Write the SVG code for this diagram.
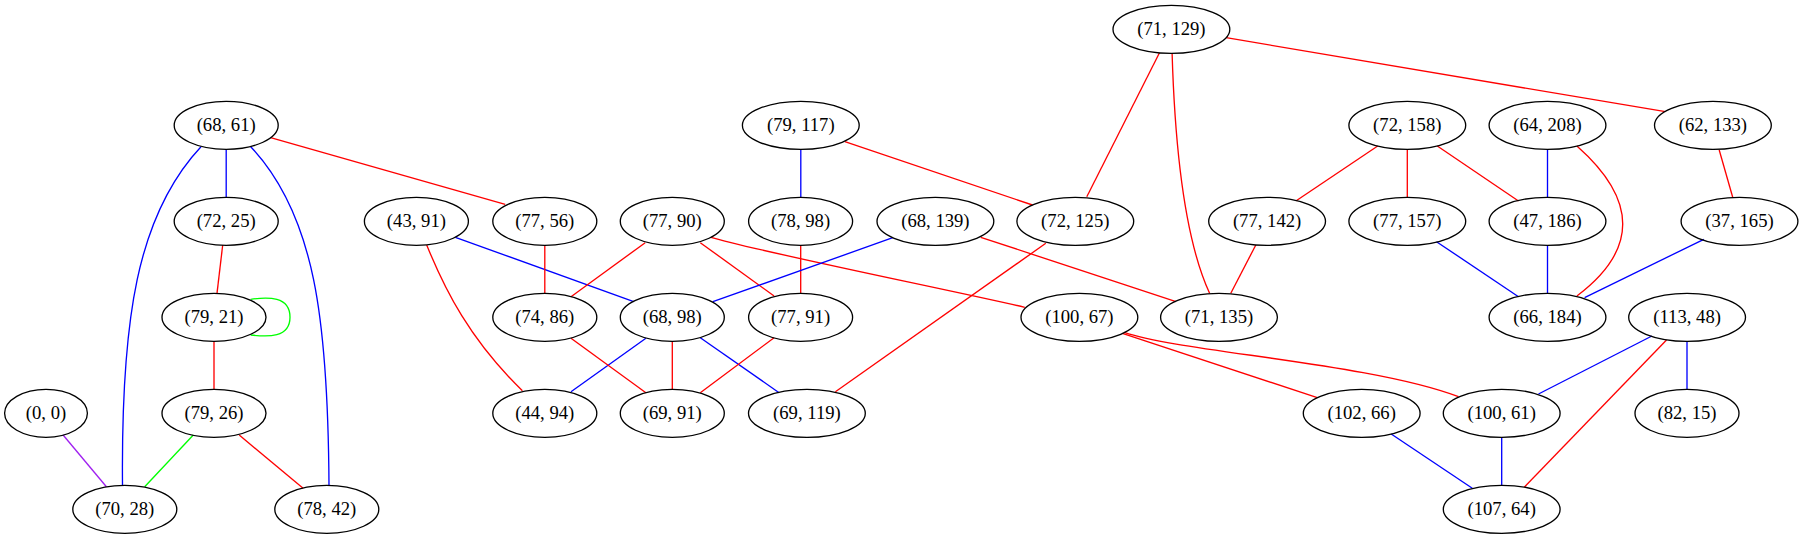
<svg xmlns="http://www.w3.org/2000/svg" width="1803" height="539" viewBox="0 0 1803 539">
<style>
.n ellipse{fill:none;stroke:#000;stroke-width:1.33}
.n text{font-family:"Liberation Serif","Times New Roman",serif;font-size:18.67px;text-anchor:middle;fill:#000}
#edges path{fill:none;stroke-width:1.33}
.r{stroke:#ff0000}.b{stroke:#0000ff}.g{stroke:#00ff00}.p{stroke:#a020f0}
</style>
<rect width="1803" height="539" fill="#fff"/>
<g id="edges">
<path class="b" d="M226.2,149.3 V197.3"/>
<path class="b" d="M201,146.7 C137,215 121,320 122.5,485.3"/>
<path class="b" d="M250.7,146.7 C315,215 328,320 329,485.3"/>
<path class="r" d="M270.6,137.7 L505.2,204.3"/>
<path class="r" d="M222.7,245 L217,293.3"/>
<path class="g" d="M250.7,299.3 C268,297 290,296 290,317.3 C290,338 268,337 250.7,335"/>
<path class="r" d="M214,341.3 V389.3"/>
<path class="g" d="M193.3,435 L144.7,486.7"/>
<path class="r" d="M239.2,435 L303.1,488.3"/>
<path class="p" d="M63.1,435 L106.4,486.7"/>
<path class="b" d="M455.4,237.3 L633.7,301.7"/>
<path class="r" d="M426.7,245 C445,290 470,340 522.4,390.7"/>
<path class="r" d="M544.8,245.3 V293.3"/>
<path class="r" d="M645.2,242.7 L571,296.7"/>
<path class="r" d="M700.3,242.7 L774.1,296"/>
<path class="r" d="M711,237.3 C760,252 950,290 1024.8,307.3"/>
<path class="b" d="M800.8,149.3 V197.3"/>
<path class="r" d="M844.9,141.7 L1032.5,205"/>
<path class="r" d="M800.7,245.3 V293.3"/>
<path class="b" d="M892.8,237.7 L712.9,301.7"/>
<path class="r" d="M980.8,237.3 L1176,301.7"/>
<path class="r" d="M1045.8,243.3 L835.4,391.7"/>
<path class="r" d="M1159.5,52.7 L1086.8,196.7"/>
<path class="r" d="M1172.1,53.3 C1175,150 1185,240 1209.6,293.3"/>
<path class="r" d="M1226.2,37.7 L1665.4,111.7"/>
<path class="r" d="M1377.7,146 L1296.2,200.7"/>
<path class="r" d="M1407.3,149.3 V197.3"/>
<path class="r" d="M1437.3,146 L1518.5,201"/>
<path class="b" d="M1547.5,149.3 V197.3"/>
<path class="r" d="M1576.9,146 C1638,200 1638,250 1576.9,296"/>
<path class="b" d="M1436.5,241.7 L1518.5,296.7"/>
<path class="b" d="M1547.5,245.3 V293.3"/>
<path class="b" d="M1703.8,239.3 L1584.6,297.7"/>
<path class="r" d="M1719.2,150 L1732.7,197.3"/>
<path class="r" d="M1255.8,245 L1230.8,293.3"/>
<path class="r" d="M1122.4,333.3 L1317.3,397.7"/>
<path class="r" d="M1124.3,332.3 C1180,352 1370,363 1458.5,396.7"/>
<path class="b" d="M1651.9,336 L1538.5,394"/>
<path class="b" d="M1687,341.3 V389.3"/>
<path class="r" d="M1666.5,340 L1524.2,487.3"/>
<path class="b" d="M1391.2,434 L1472.3,488.3"/>
<path class="b" d="M1501.7,437.3 V485.3"/>
<path class="b" d="M645.9,338.3 L571,391.7"/>
<path class="r" d="M672.3,341.3 V389.3"/>
<path class="b" d="M700.3,337.7 L779.1,392.7"/>
<path class="r" d="M571,338.3 L645.9,392.7"/>
<path class="r" d="M774.1,337.7 L700.3,392.7"/>
</g>
<g id="n_71_129" class="n"><ellipse cx="1171.4" cy="29.3" rx="58.4" ry="24"/><text x="1171.4" y="35">(71, 129)</text></g>
<g id="n_68_61" class="n"><ellipse cx="226.2" cy="125.3" rx="52" ry="24"/><text x="226.2" y="131">(68, 61)</text></g>
<g id="n_79_117" class="n"><ellipse cx="800.8" cy="125.3" rx="58.4" ry="24"/><text x="800.8" y="131">(79, 117)</text></g>
<g id="n_72_158" class="n"><ellipse cx="1407.3" cy="125.3" rx="58.4" ry="24"/><text x="1407.3" y="131">(72, 158)</text></g>
<g id="n_64_208" class="n"><ellipse cx="1547.5" cy="125.3" rx="58.4" ry="24"/><text x="1547.5" y="131">(64, 208)</text></g>
<g id="n_62_133" class="n"><ellipse cx="1712.9" cy="125.3" rx="58.4" ry="24"/><text x="1712.9" y="131">(62, 133)</text></g>
<g id="n_72_25" class="n"><ellipse cx="226.2" cy="221.3" rx="52" ry="24"/><text x="226.2" y="227">(72, 25)</text></g>
<g id="n_43_91" class="n"><ellipse cx="416.4" cy="221.3" rx="52" ry="24"/><text x="416.4" y="227">(43, 91)</text></g>
<g id="n_77_56" class="n"><ellipse cx="544.8" cy="221.3" rx="52" ry="24"/><text x="544.8" y="227">(77, 56)</text></g>
<g id="n_77_90" class="n"><ellipse cx="672.3" cy="221.3" rx="52" ry="24"/><text x="672.3" y="227">(77, 90)</text></g>
<g id="n_78_98" class="n"><ellipse cx="800.6" cy="221.3" rx="52" ry="24"/><text x="800.6" y="227">(78, 98)</text></g>
<g id="n_68_139" class="n"><ellipse cx="935.4" cy="221.3" rx="58.4" ry="24"/><text x="935.4" y="227">(68, 139)</text></g>
<g id="n_72_125" class="n"><ellipse cx="1075.3" cy="221.3" rx="58.4" ry="24"/><text x="1075.3" y="227">(72, 125)</text></g>
<g id="n_77_142" class="n"><ellipse cx="1267.1" cy="221.3" rx="58.4" ry="24"/><text x="1267.1" y="227">(77, 142)</text></g>
<g id="n_77_157" class="n"><ellipse cx="1407.3" cy="221.3" rx="58.4" ry="24"/><text x="1407.3" y="227">(77, 157)</text></g>
<g id="n_47_186" class="n"><ellipse cx="1547.5" cy="221.3" rx="58.4" ry="24"/><text x="1547.5" y="227">(47, 186)</text></g>
<g id="n_37_165" class="n"><ellipse cx="1739.5" cy="221.3" rx="58.4" ry="24"/><text x="1739.5" y="227">(37, 165)</text></g>
<g id="n_79_21" class="n"><ellipse cx="214" cy="317.3" rx="52" ry="24"/><text x="214" y="323">(79, 21)</text></g>
<g id="n_74_86" class="n"><ellipse cx="544.8" cy="317.3" rx="52" ry="24"/><text x="544.8" y="323">(74, 86)</text></g>
<g id="n_68_98" class="n"><ellipse cx="672.3" cy="317.3" rx="52" ry="24"/><text x="672.3" y="323">(68, 98)</text></g>
<g id="n_77_91" class="n"><ellipse cx="800.6" cy="317.3" rx="52" ry="24"/><text x="800.6" y="323">(77, 91)</text></g>
<g id="n_100_67" class="n"><ellipse cx="1079.4" cy="317.3" rx="58.4" ry="24"/><text x="1079.4" y="323">(100, 67)</text></g>
<g id="n_71_135" class="n"><ellipse cx="1219" cy="317.3" rx="58.4" ry="24"/><text x="1219" y="323">(71, 135)</text></g>
<g id="n_66_184" class="n"><ellipse cx="1547.5" cy="317.3" rx="58.4" ry="24"/><text x="1547.5" y="323">(66, 184)</text></g>
<g id="n_113_48" class="n"><ellipse cx="1687.1" cy="317.3" rx="58.4" ry="24"/><text x="1687.1" y="323">(113, 48)</text></g>
<g id="n_0_0" class="n"><ellipse cx="46" cy="413.3" rx="41.4" ry="24"/><text x="46" y="419">(0, 0)</text></g>
<g id="n_79_26" class="n"><ellipse cx="214" cy="413.3" rx="52" ry="24"/><text x="214" y="419">(79, 26)</text></g>
<g id="n_44_94" class="n"><ellipse cx="544.8" cy="413.3" rx="52" ry="24"/><text x="544.8" y="419">(44, 94)</text></g>
<g id="n_69_91" class="n"><ellipse cx="672.3" cy="413.3" rx="52" ry="24"/><text x="672.3" y="419">(69, 91)</text></g>
<g id="n_69_119" class="n"><ellipse cx="806.9" cy="413.3" rx="58.4" ry="24"/><text x="806.9" y="419">(69, 119)</text></g>
<g id="n_102_66" class="n"><ellipse cx="1361.7" cy="413.3" rx="58.4" ry="24"/><text x="1361.7" y="419">(102, 66)</text></g>
<g id="n_100_61" class="n"><ellipse cx="1501.7" cy="413.3" rx="58.4" ry="24"/><text x="1501.7" y="419">(100, 61)</text></g>
<g id="n_82_15" class="n"><ellipse cx="1687" cy="413.3" rx="52" ry="24"/><text x="1687" y="419">(82, 15)</text></g>
<g id="n_70_28" class="n"><ellipse cx="124.8" cy="509.3" rx="52" ry="24"/><text x="124.8" y="515">(70, 28)</text></g>
<g id="n_78_42" class="n"><ellipse cx="326.8" cy="509.3" rx="52" ry="24"/><text x="326.8" y="515">(78, 42)</text></g>
<g id="n_107_64" class="n"><ellipse cx="1501.7" cy="509.3" rx="58.4" ry="24"/><text x="1501.7" y="515">(107, 64)</text></g>
</svg>
